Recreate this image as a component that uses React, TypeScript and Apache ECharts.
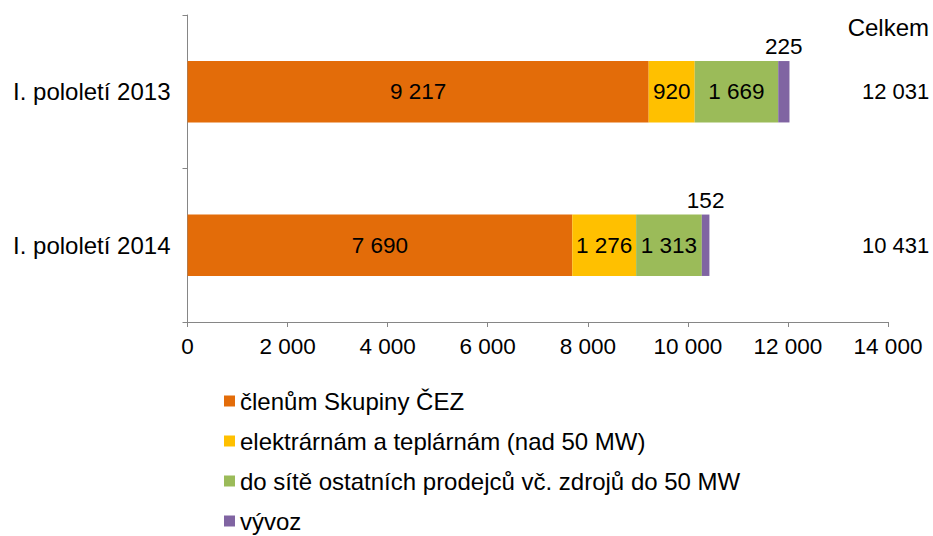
import React, { useEffect, useRef } from "react";
import * as echarts from "echarts";

const categories = ["I. pololetí 2013", "I. pololetí 2014"];
const seriesNames = [
  "členům Skupiny ČEZ",
  "elektrárnám a teplárnám (nad 50 MW)",
  "do sítě ostatních prodejců vč. zdrojů do 50 MW",
  "vývoz",
];
const clenum = [9217, 7690];
const elektrarnam = [920, 1276];
const doSite = [1669, 1313];
const vyvoz = [225, 152];
const colors = ["#E36C09", "#FFC000", "#9BBB59", "#8064A2"];
const xTicks = [0, 2000, 4000, 6000, 8000, 10000, 12000, 14000];
const totalTitle = "Celkem";

const fmt = (v: number) =>
  String(Math.round(v)).replace(/\B(?=(\d{3})+(?!\d))/g, " ");

const FONT = "'Liberation Sans', Arial, sans-serif";
const FS_TEXT = 24;
const FS_NUM = 22.5;

export default function App() {
  const ref = useRef<HTMLDivElement>(null);
  useEffect(() => {
    if (!ref.current) return;
    const chart = echarts.init(ref.current, undefined, { renderer: "svg" });
    const all = [clenum, elektrarnam, doSite, vyvoz];
    const totals = categories.map((_, i) => all.reduce((s, a) => s + a[i], 0));
    const axisColor = "#868686";
    const mk = (idx: number, data: number[], pos: string) => ({
      name: seriesNames[idx],
      type: "bar",
      stack: "total",
      data,
      barWidth: "40%",
      itemStyle: { color: colors[idx] },
      label: {
        show: true,
        position: pos,
        distance: 3,
        color: "#000",
        fontSize: FS_NUM,
        fontFamily: FONT,
        formatter: (p: any) => fmt(p.value),
      },
    });
    chart.setOption({
      animation: false,
      textStyle: { fontFamily: FONT },
      title: {
        text: totalTitle,
        right: 4,
        top: 15,
        padding: 0,
        textStyle: { fontSize: FS_TEXT, fontWeight: "normal", color: "#000", fontFamily: FONT },
      },
      grid: { left: 187.5, right: 45, top: 15, bottom: 214, containLabel: false },
      legend: {
        orient: "vertical",
        left: 224,
        top: 389,
        height: 147,
        padding: 0,
        itemGap: 16,
        itemWidth: 11,
        itemHeight: 11,
        icon: "rect",
        data: seriesNames,
        textStyle: { fontSize: FS_TEXT, color: "#000", fontFamily: FONT },
      },
      xAxis: {
        type: "value",
        min: xTicks[0],
        max: xTicks[xTicks.length - 1],
        interval: 2000,
        axisLine: { show: true, lineStyle: { color: axisColor } },
        axisTick: { show: true, length: 5, lineStyle: { color: axisColor } },
        splitLine: { show: false },
        axisLabel: {
          fontSize: FS_NUM,
          color: "#000",
          fontFamily: FONT,
          margin: 13,
          formatter: (v: number) => fmt(v),
        },
      },
      yAxis: [
        {
          type: "category",
          data: categories,
          inverse: true,
          axisLine: { show: true, lineStyle: { color: axisColor } },
          axisTick: { show: true, length: 5, alignWithLabel: false, lineStyle: { color: axisColor } },
          axisLabel: { fontSize: FS_TEXT, color: "#000", fontFamily: FONT, margin: 17 },
        },
        {
          type: "category",
          data: categories,
          inverse: true,
          position: "right",
          offset: -26,
          axisLine: { show: false },
          axisTick: { show: false },
          axisLabel: {
            fontSize: 22,
            color: "#000",
            fontFamily: FONT,
            margin: 0,
            align: "left",
            formatter: (_: string, i: number) => fmt(totals[i]),
          },
        },
      ],
      series: [
        mk(0, clenum, "inside"),
        mk(1, elektrarnam, "inside"),
        mk(2, doSite, "inside"),
        mk(3, vyvoz, "top"),
      ],
    });
    return () => chart.dispose();
  }, []);
  return (
    <div
      ref={ref}
      style={{ position: "absolute", left: 0, top: 0, width: 933, height: 536, background: "#fff" }}
    />
  );
}
